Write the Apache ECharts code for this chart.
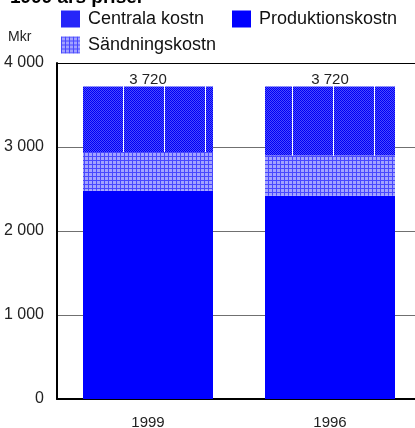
<!DOCTYPE html>
<html><head><meta charset="utf-8">
<script src="https://cdn.jsdelivr.net/npm/echarts@6/dist/echarts.min.js"></script>
<style>html,body{margin:0;padding:0;background:#fff}#c{width:415px;height:428px}</style>
</head><body><div id="c"></div>
<script>
const categories = ['1999', '1996'];
const produktion = [2480, 2420];
const sandning = [460, 480];
const centrala = [780, 820];
const totals = [3720, 3720];

function fmt(v){ return String(v).replace(/\B(?=(\d{3})+(?!\d))/g, ' '); }

function centralaPattern(offs){
  const c = document.createElement('canvas'); c.width = 82; c.height = 2;
  const g = c.getContext('2d');
  for (let x = 0; x < 82; x++) for (let y = 0; y < 2; y++) {
    g.fillStyle = ((x + y) % 2 === 0) ? '#0000f4' : '#4a4aff';
    g.fillRect(x, y, 1, 1);
  }
  if (offs) { g.fillStyle = '#ffffff'; offs.forEach(o => g.fillRect(o, 0, 1, 2)); }
  return {image: c, repeat: 'repeat'};
}
function sandPattern(){
  const c = document.createElement('canvas'); c.width = 4; c.height = 4;
  const g = c.getContext('2d');
  g.fillStyle = '#a2a2ff'; g.fillRect(0, 0, 4, 4);
  g.fillStyle = '#4848ff'; g.fillRect(0, 0, 4, 1); g.fillRect(0, 0, 1, 4);
  return {image: c, repeat: 'repeat'};
}
const cPatLegend = centralaPattern(null);
const cPat1 = centralaPattern([0, 41]);
const cPat2 = centralaPattern([5, 46]);
const sPat = sandPattern();

const chart = echarts.init(document.getElementById('c'), null, {renderer: 'canvas'});
const FONT = 'Liberation Sans, Arial, sans-serif';
const legendText = {fontSize: 18, color: '#111', padding: [0,0,0,3]};
chart.setOption({
  animation: false,
  backgroundColor: '#fff',
  textStyle: {fontFamily: FONT},
  graphic: [
    {type: 'text', left: 10, top: -12, style: {text: '1999 års priser', font: 'bold 19px ' + FONT, fill: '#000'}},
    {type: 'text', left: 8, top: 30, style: {text: 'Mkr', font: '14px ' + FONT, fill: '#222'}}
  ],
  legend: [
    {data: [{name: 'Centrala kostn', itemStyle: {color: cPatLegend}}], left: 61, top: 10, padding: 0, itemWidth: 19, itemHeight: 17, icon: 'rect', textStyle: legendText},
    {data: ['Produktionskostn'], left: 232, top: 10, padding: 0, itemWidth: 19, itemHeight: 17, icon: 'rect', textStyle: legendText},
    {data: [{name: 'Sändningskostn', itemStyle: {color: sPat}}], left: 61, top: 36, padding: 0, itemWidth: 19, itemHeight: 17, icon: 'rect', textStyle: legendText}
  ],
  grid: {left: 57, right: -6, top: 63, bottom: 29, containLabel: false, outerBoundsMode: 'none'},
  xAxis: [{
    type: 'category', data: categories,
    axisLine: {lineStyle: {color: '#000', width: 2}},
    axisTick: {show: false},
    axisLabel: {fontSize: 15, color: '#222', margin: 16}
  }, {
    type: 'category', data: categories, position: 'top',
    axisLine: {lineStyle: {color: '#000', width: 1}},
    axisTick: {show: false}, axisLabel: {show: false}
  }],
  yAxis: {
    type: 'value', min: 0, max: 4000, interval: 1000,
    axisLine: {show: true, lineStyle: {color: '#000', width: 2}},
    axisTick: {show: false},
    axisLabel: {fontSize: 16, color: '#222', margin: 13, formatter: v => fmt(v)},
    splitLine: {lineStyle: {color: '#707070', width: 1}}
  },
  series: [
    {name: 'Produktionskostn', type: 'bar', stack: 's', barWidth: 130, data: produktion,
     itemStyle: {color: '#0000ff'}},
    {name: 'Sändningskostn', type: 'bar', stack: 's', barWidth: 130, data: sandning,
     itemStyle: {color: sPat}},
    {name: 'Centrala kostn', type: 'bar', stack: 's', barWidth: 130,
     data: centrala.map((v, i) => ({value: v, itemStyle: {color: i === 0 ? cPat1 : cPat2}})),
     itemStyle: {color: cPatLegend},
     label: {show: true, position: 'top', distance: -1, fontSize: 15, color: '#222',
       formatter: p => fmt(totals[p.dataIndex])}}
  ]
});
</script></body></html>
